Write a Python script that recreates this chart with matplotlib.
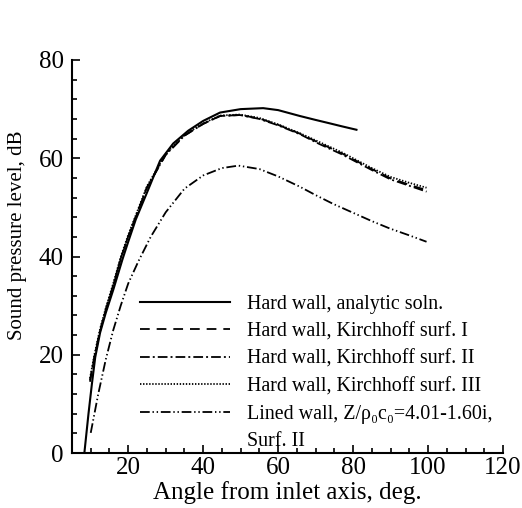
import numpy as np
import matplotlib
matplotlib.use('Agg')
import matplotlib.pyplot as plt
from matplotlib.lines import Line2D
from matplotlib.ticker import MultipleLocator

plt.rcParams['font.family'] = ['Liberation Serif', 'DejaVu Serif']
plt.rcParams['lines.scale_dashes'] = False

# Hard wall, analytic solution
x_analytic = [8.3, 9.4, 10.3, 11.2, 12.5, 14, 16, 18.5, 20, 22, 25, 28.5, 32, 36, 40, 44.5, 50, 56, 60, 65.8, 70, 73.8, 77, 80.9]
y_analytic = [0, 8, 14, 19.5, 24.5, 28.5, 33.2, 39.5, 43, 47.5, 53, 59.5, 63, 65.6, 67.6, 69.3, 70.0, 70.2, 69.8, 68.6, 67.8, 67.1, 66.5, 65.8]

# Kirchhoff surfaces (hard wall) and lined wall
x_kirch = [9.8, 11, 12.5, 14, 16, 18, 20, 25, 30, 35, 40, 44.5, 49.8, 55, 60, 65.8, 71, 77, 81, 85, 90, 95, 99.6]
y_surf1 = [14.5, 19.5, 24.8, 29, 34, 39.5, 44, 54, 60.7, 64.6, 67, 68.6, 68.8, 68.1, 66.8, 65.0, 63.1, 61.0, 59.4, 57.8, 55.9, 54.6, 53.5]
y_surf2 = [14.8, 19.7, 25.0, 29.2, 34.2, 39.6, 44.1, 54.1, 60.7, 64.6, 67, 68.6, 68.8, 68.0, 66.7, 64.9, 62.9, 60.8, 59.2, 57.6, 55.7, 54.4, 53.2]
y_surf3 = [15.2, 20.1, 25.3, 29.5, 34.5, 39.9, 44.4, 54.3, 60.9, 64.8, 67.1, 68.7, 68.9, 68.2, 66.9, 65.1, 63.3, 61.2, 59.6, 58.0, 56.2, 55.0, 54.0]

x_lined = [10, 12, 14, 16, 18, 20, 22.7, 26, 30, 35, 40, 45, 49.4, 55, 60, 65.8, 70, 74.7, 80, 85, 89.8, 95, 99.6]
y_lined = [4.1, 12, 19, 25, 30, 34.5, 39, 44, 49, 53.8, 56.5, 58, 58.5, 57.8, 56.3, 54.2, 52.5, 50.7, 48.9, 47.2, 45.7, 44.3, 43.0]

labels = ['Hard wall, analytic soln.',
          'Hard wall, Kirchhoff surf. I',
          'Hard wall, Kirchhoff surf. II',
          'Hard wall, Kirchhoff surf. III',
          'Lined wall, Z/ρ\u2080c\u2080=4.01-1.60i,',
          'Surf. II']

fig = plt.figure(figsize=(5.22, 5.08), dpi=100)
ax = fig.add_axes([72 / 522, 1 - 453 / 508, 431 / 522, 393 / 508])

ax.plot(x_analytic, y_analytic, color='black', lw=1.5, ls='-', label=labels[0])
ax.plot(x_kirch, y_surf1, color='black', lw=1.3, ls=(0, (7, 5)), label=labels[1])
ax.plot(x_kirch, y_surf2, color='black', lw=1.3, ls=(0, (7, 2.2, 1.4, 2.2)), label=labels[2])
ax.plot(x_kirch, y_surf3, color='black', lw=1.3, ls=(0, (1, 1.2)), label=labels[3])
ax.plot(x_lined, y_lined, color='black', lw=1.3, ls=(0, (7, 2, 1, 2, 1, 2)), label=labels[4])

# last legend row is the continuation of the lined-wall label
handles, _ = ax.get_legend_handles_labels()
handles.append(Line2D([], [], color='none'))
ax.legend(handles, labels, loc='lower left', bbox_to_anchor=(0.158, 0.005),
          frameon=False, fontsize=14.4, handlelength=4.5, handletextpad=0.85,
          labelspacing=0.42, borderpad=0, borderaxespad=0)

ax.set_xlim(5, 120)
ax.set_ylim(0, 80)
ax.xaxis.set_major_locator(MultipleLocator(20))
ax.xaxis.set_minor_locator(MultipleLocator(5))
ax.yaxis.set_major_locator(MultipleLocator(20))
ax.yaxis.set_minor_locator(MultipleLocator(4))
ax.tick_params(which='both', direction='in', width=1.2, labelsize=18)
ax.tick_params(axis='x', pad=3)
ax.tick_params(axis='y', pad=6)
ax.tick_params(which='major', length=6)
ax.tick_params(which='minor', length=3.6)
for side in ['top', 'right']:
    ax.spines[side].set_visible(False)
for side in ['left', 'bottom']:
    ax.spines[side].set_linewidth(1.5)

ax.set_xlabel('Angle from inlet axis, deg.', fontsize=18, labelpad=1.5)
fig.text(18 / 522, 1 - 235 / 508, 'Sound pressure level, dB', fontsize=15,
         rotation=90, ha='center', va='center')

fig.savefig('out.png', dpi=100)
